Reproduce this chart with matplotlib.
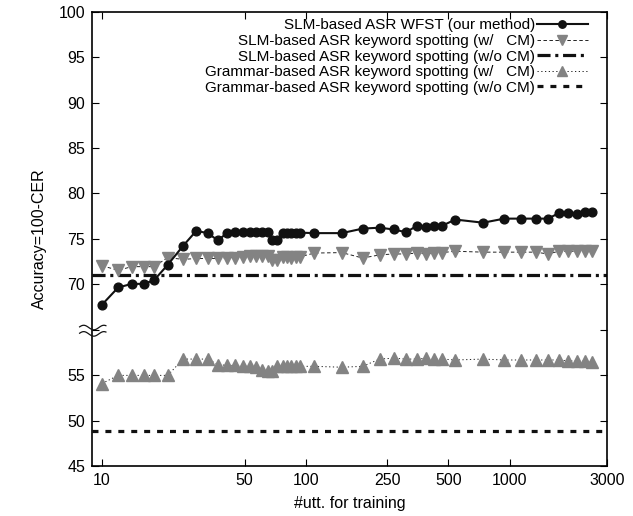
import numpy as np
import matplotlib
matplotlib.use("Agg")
import matplotlib.pyplot as plt
from matplotlib.ticker import FixedLocator, NullLocator

plt.rcParams["font.family"] = ["Liberation Sans", "DejaVu Sans"]
plt.rcParams["lines.scale_dashes"] = False

# ─── Data ────────────────────────────────────────────────────────────────────
n_utt = [10, 12, 14, 16, 18, 21, 25, 29, 33, 37, 41, 45, 49, 53, 57, 61, 65,
         68, 72, 77, 81, 85, 89, 94, 110, 150, 190, 230, 270, 310, 350, 390,
         425, 465, 540, 740, 940, 1140, 1340, 1540, 1740, 1940, 2140, 2340, 2520]

slm_wfst = [67.7, 69.6, 70.0, 70.0, 70.4, 72.1, 74.2, 75.85, 75.6, 74.8, 75.6,
            75.75, 75.75, 75.75, 75.75, 75.75, 75.75, 74.85, 74.85, 75.6, 75.65,
            75.65, 75.65, 75.65, 75.6, 75.6, 76.1, 76.2, 76.0, 75.7, 76.4, 76.25,
            76.4, 76.4, 77.1, 76.75, 77.2, 77.2, 77.2, 77.2, 77.8, 77.8, 77.75,
            77.9, 77.95]

slm_kws_cm = [72.0, 71.5, 71.9, 71.9, 71.9, 72.9, 72.7, 72.8, 72.8, 72.8, 72.9,
              72.9, 73.0, 73.1, 73.1, 73.1, 73.1, 72.6, 72.6, 73.0, 73.0, 72.9,
              73.0, 73.0, 73.4, 73.45, 72.85, 73.2, 73.3, 73.3, 73.4, 73.3, 73.45,
              73.45, 73.6, 73.5, 73.5, 73.5, 73.5, 73.3, 73.6, 73.6, 73.6, 73.6,
              73.6]

gram_kws_cm = [54.1, 55.0, 55.0, 55.0, 55.0, 55.0, 56.8, 56.8, 56.8, 56.2, 56.1,
               56.1, 56.0, 56.0, 55.9, 55.6, 55.5, 55.5, 56.0, 56.0, 56.0, 56.0,
               56.0, 56.0, 56.0, 55.9, 56.0, 56.8, 56.9, 56.8, 56.8, 56.9, 56.8,
               56.8, 56.7, 56.8, 56.7, 56.7, 56.7, 56.7, 56.7, 56.6, 56.6, 56.55,
               56.5]

slm_kws_nocm = 71.0
gram_kws_nocm = 48.9

x_ticks = [10, 50, 100, 250, 500, 1000, 3000]
y_ticks = [45, 50, 55, 62.5, 70, 75, 80, 85, 90, 95, 100]
y_labels = ["45", "50", "55", "", "70", "75", "80", "85", "90", "95", "100"]

LABELS = [
    "SLM-based ASR WFST (our method)",
    "SLM-based ASR keyword spotting (w/   CM)",
    "SLM-based ASR keyword spotting (w/o CM)",
    "Grammar-based ASR keyword spotting (w/   CM)",
    "Grammar-based ASR keyword spotting (w/o CM)",
]
GRAY = "#838383"


# broken y axis: 60..65 squeezed to nothing
def fwd(y):
    y = np.asarray(y, float)
    return np.where(y >= 65, y, np.where(y <= 60, y + 4.9, 64.9 + (y - 60) * 0.02))


def inv(v):
    v = np.asarray(v, float)
    return np.where(v >= 65, v, np.where(v <= 64.9, v - 4.9, 60 + (v - 64.9) / 0.02))


# ─── Plot ────────────────────────────────────────────────────────────────────
fig = plt.figure(figsize=(6.33, 5.16), dpi=100)
ax = fig.add_axes([0.1453, 0.0969, 0.8137, 0.8798])
ax.set_xscale("log")
ax.set_yscale("function", functions=(fwd, inv))

ax.plot(n_utt, slm_wfst, color="#111111", lw=1.5, marker="o", ms=6.3,
        label=LABELS[0], zorder=5)
ax.plot(n_utt, slm_kws_cm, color="#222222", lw=0.7, dashes=(2.5, 1.8),
        marker="v", ms=8, mfc=GRAY, mec=GRAY, label=LABELS[1], zorder=4)
ax.axhline(slm_kws_nocm, color="#111111", lw=2.3, dashes=(9.4, 3.4, 2.2, 3.4),
           label=LABELS[2])
ax.plot(n_utt, gram_kws_cm, color="#222222", lw=0.7, dashes=(0.9, 1.8),
        marker="^", ms=8, mfc=GRAY, mec=GRAY, label=LABELS[3], zorder=4)
ax.axhline(gram_kws_nocm, color="#111111", lw=2.3, dashes=(4.3, 5.0),
           label=LABELS[4])

ax.set_xlim(8.93, 3000)
ax.set_ylim(45, 100)
ax.xaxis.set_major_locator(FixedLocator(x_ticks))
ax.xaxis.set_minor_locator(NullLocator())
ax.set_xticklabels([str(t) for t in x_ticks])
ax.yaxis.set_major_locator(FixedLocator(y_ticks))
ax.yaxis.set_minor_locator(NullLocator())
ax.set_yticklabels(y_labels)
ax.tick_params(direction="in", length=5, width=0.8, top=True, right=True,
               labelsize=11.5, pad=5)
for s in ax.spines.values():
    s.set_linewidth(1.2)

ax.set_xlabel("#utt. for training", fontsize=11.5, labelpad=6)
ax.set_ylabel("Accuracy=100-CER", fontsize=11.5, labelpad=8)

# axis break mark
t = np.linspace(0, 1, 40)
bx = -0.024 + 0.051 * t
for y0 in (0.305, 0.291):
    ax.plot(bx, y0 + 0.005 * np.sin(2 * np.pi * 1.3 * t + 0.3), color="#111111",
            lw=0.9, transform=ax.transAxes, clip_on=False, zorder=6)

ax.legend(loc="upper right", bbox_to_anchor=(0.98, 1.006), frameon=False,
          markerfirst=False, fontsize=11, handlelength=3.3, handletextpad=0.15,
          labelspacing=0.1, borderaxespad=0.2, markerscale=0.85)

fig.savefig("out.png", dpi=100)
